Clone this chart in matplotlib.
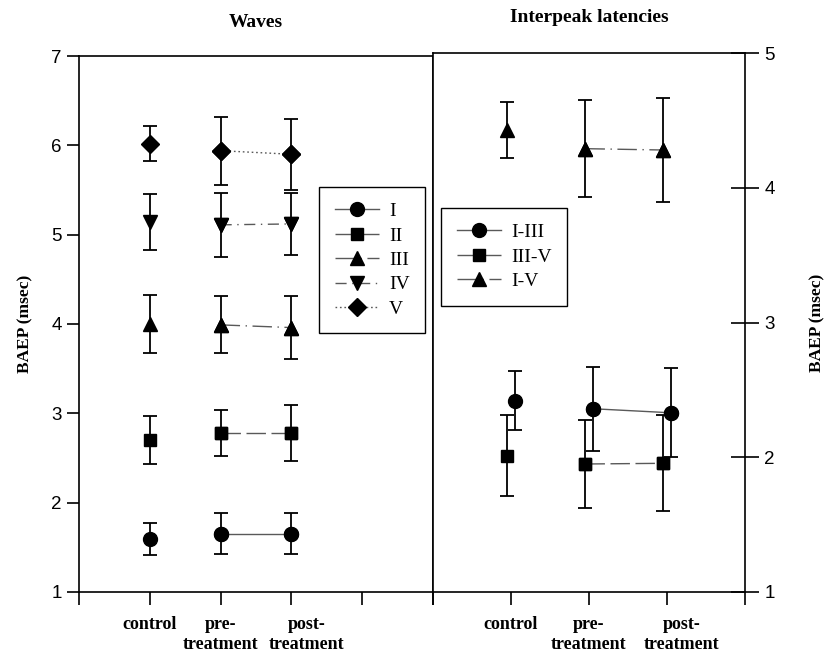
import matplotlib
matplotlib.use('Agg')
import matplotlib.pyplot as plt
import matplotlib.transforms as mtransforms

plt.rcParams['font.family'] = ['Liberation Serif', 'DejaVu Serif']

categories = ['control', 'pre-\ntreatment', 'post-\ntreatment']

# waves: mean and error (msec)
wave_names = ['I', 'II', 'III', 'IV', 'V']
wave_means = [
    [1.59, 1.65, 1.65],
    [2.70, 2.78, 2.78],
    [4.00, 3.99, 3.96],
    [5.14, 5.11, 5.12],
    [6.02, 5.94, 5.90],
]
wave_errs = [
    [0.18, 0.23, 0.23],
    [0.27, 0.26, 0.31],
    [0.33, 0.32, 0.35],
    [0.31, 0.36, 0.35],
    [0.20, 0.38, 0.40],
]

# interpeak latencies
ipl_names = ['I-III', 'III-V', 'I-V']
ipl_means = [
    [2.42, 2.36, 2.33],
    [2.01, 1.95, 1.955],
    [4.43, 4.29, 4.28],
]
ipl_errs = [
    [0.22, 0.31, 0.33],
    [0.30, 0.33, 0.355],
    [0.21, 0.36, 0.385],
]

wave_markers = ['o', 's', '^', 'v', 'D']
wave_styles = ['-', (0, (14, 4)), (0, (14, 4, 1, 4)), (0, (8, 4, 1, 4)), (0, (1.2, 2))]
ipl_markers = ['o', 's', '^']
ipl_styles = ['-', (0, (14, 4)), (0, (14, 4, 1, 4))]
ipl_offsets = [0.05, -0.045, -0.045]

fig = plt.figure(figsize=(8.39, 6.56), dpi=100)
ax1 = fig.add_axes([79 / 839, 1 - 592 / 656, (433 - 79) / 839, (592 - 56) / 656])
ax2 = fig.add_axes([433 / 839, 1 - 592 / 656, (745 - 433) / 839, (592 - 53) / 656])

x = [1, 2, 3]
msizes = {'o': 10, 's': 9, '^': 10, 'v': 10, 'D': 9}

for name, m, e, mk, ls in zip(wave_names, wave_means, wave_errs, wave_markers, wave_styles):
    ax1.plot(x[1:], m[1:], color='0.35', lw=1.0, linestyle=ls, marker=mk,
             ms=msizes[mk], mfc='black', mec='black', label=name)
    ax1.errorbar(x, m, yerr=e, fmt=mk, ms=msizes[mk], color='black',
                 ecolor='black', elinewidth=1.3, capsize=5, capthick=1.3)

for name, m, e, mk, ls, off in zip(ipl_names, ipl_means, ipl_errs, ipl_markers, ipl_styles, ipl_offsets):
    xs = [v + off for v in x]
    ax2.plot(xs[1:], m[1:], color='0.35', lw=1.0, linestyle=ls, marker=mk,
             ms=msizes[mk], mfc='black', mec='black', label=name)
    ax2.errorbar(xs, m, yerr=e, fmt=mk, ms=msizes[mk], color='black',
                 ecolor='black', elinewidth=1.3, capsize=5, capthick=1.3)

ax1.set_xlim(0, 5)
ax1.set_ylim(1, 7)
ax1.set_xticks([0, 1, 2, 3, 4, 5])
ax1.set_xticklabels(['', categories[0], categories[1], categories[2], '', ''])
ax1.set_yticks([1, 2, 3, 4, 5, 6, 7])
ax1.tick_params(axis='both', direction='out', length=9, width=1.2)
ax1.tick_params(axis='x', pad=8)
ax1.set_ylabel('BAEP (msec)', fontsize=12.5, fontweight='bold', labelpad=13)
ax1.set_title('Waves', fontsize=14, fontweight='bold', pad=21)

ax2.set_xlim(0, 4)
ax2.set_ylim(1, 5)
ax2.set_xticks([0, 1, 2, 3, 4])
ax2.set_xticklabels(['', categories[0], categories[1], categories[2], ''])
ax2.yaxis.tick_right()
ax2.yaxis.set_label_position('right')
ax2.set_yticks([1, 2, 3, 4, 5])
ax2.tick_params(axis='y', direction='inout', length=20, width=1.2, pad=4)
ax2.tick_params(axis='x', direction='out', length=9, width=1.2, pad=8)
ax2.set_ylabel('BAEP (msec)', fontsize=12.5, fontweight='bold', labelpad=25)
ax2.set_title('Interpeak latencies', fontsize=14, fontweight='bold', pad=22)

# the "post-treatment" labels sit a bit right of their tick in the original
shift = mtransforms.ScaledTranslation(15 / 100, 0, fig.dpi_scale_trans)
for ax in (ax1, ax2):
    for sp in ax.spines.values():
        sp.set_linewidth(1.2)
    for lab in ax.get_yticklabels():
        lab.set_family(['Liberation Sans', 'DejaVu Sans'])
        lab.set_fontsize(13.5)
    for lab in ax.get_xticklabels():
        lab.set_fontweight('bold')
        lab.set_fontsize(13)
        lab.set_linespacing(1.25)
    post_lab = ax.get_xticklabels()[3]
    post_lab.set_transform(post_lab.get_transform() + shift)

leg_opts = dict(borderaxespad=0, fontsize=14, fancybox=False, edgecolor='black',
                framealpha=1, handlelength=2.3, handletextpad=0.5,
                labelspacing=0.35, borderpad=0.8, loc='upper left',
                bbox_transform=fig.transFigure)
leg1 = ax1.legend(bbox_to_anchor=(319 / 839, 1 - 187 / 656), **leg_opts)
leg1.get_frame().set_linewidth(1.0)
leg2 = ax2.legend(bbox_to_anchor=(441 / 839, 1 - 208 / 656), **leg_opts)
leg2.get_frame().set_linewidth(1.0)

fig.savefig('out.png', dpi=100)
